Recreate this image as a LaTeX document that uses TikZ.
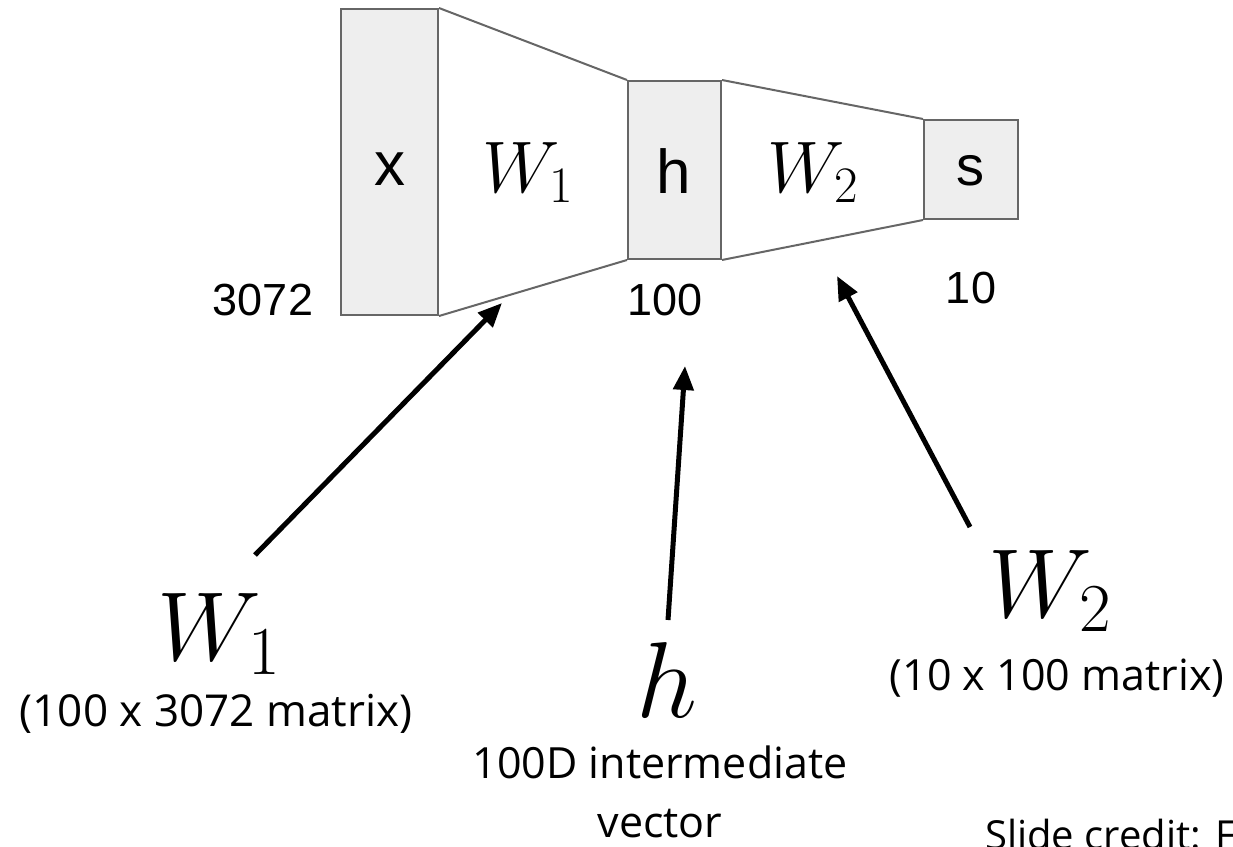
\RequirePackage{fix-cm}
\documentclass[tikz,border=0pt]{standalone}
\usepackage{fontspec}
\setmainfont{Latin Modern Roman}
\newfontfamily\arialf{Liberation Sans}
\newfontfamily\segoef{Open Sans}
\usetikzlibrary{arrows.meta}
\definecolor{boxfill}{HTML}{EEEEEE}
\definecolor{boxline}{HTML}{666666}
\tikzset{
  layer/.style={draw=boxline, fill=boxfill, line width=2pt, inner sep=0pt, anchor=north west},
  boxlbl/.style={font=\arialf\fontsize{62}{62}\selectfont, inner sep=0pt, anchor=base},
  dimlbl/.style={font=\arialf\fontsize{45}{45}\selectfont, inner sep=0pt},
  funnel/.style={draw=boxline, line width=2pt},
  bigarrow/.style={line width=5pt, -{Triangle[length=24pt,width=20pt]}},
  caption/.style={font=\segoef\fontsize{43}{59}\selectfont, inner sep=0pt, align=center},
  mathlbl/.style={inner sep=0pt, anchor=base},
}
\begin{document}
\begin{tikzpicture}[x=1pt,y=-1pt]
\useasboundingbox (0,0) rectangle (1233,846);
\clip (0,0) rectangle (1233,846);
% layers
\node[layer, minimum width=97pt, minimum height=306pt] (x) at (340,8) {};
\node[layer, minimum width=93pt, minimum height=178pt] (h) at (627,80) {};
\node[layer, minimum width=94pt, minimum height=99pt] (s) at (923,119) {};
% funnels
\draw[funnel] (x.north east) -- (h.north west);
\draw[funnel] (x.south east) -- (h.south west);
\draw[funnel] (h.north east) -- (s.north west);
\draw[funnel] (h.south east) -- (s.south west);
% labels in boxes
\node[boxlbl] (xl) at (390,185) {x};
\node[boxlbl] (hl) at (674,193) {h};
\node[boxlbl, font=\arialf\fontsize{56}{56}\selectfont] (sl) at (970,185) {s};
\node[mathlbl, font=\fontsize{73}{73}\selectfont] (w1) at (528,192) {$W_1$};
\node[mathlbl, font=\fontsize{73}{73}\selectfont] (w2) at (813,192) {$W_2$};
% dims
\node[dimlbl] (d1) at (263,300) {3072};
\node[dimlbl] (d2) at (665,300) {100};
\node[dimlbl] (d3) at (971,288) {10};
% bottom labels
\node[mathlbl, font=\fontsize{98}{98}\selectfont] (bw1) at (219,660) {$W_1$};
\node[caption, font=\segoef\fontsize{44}{59}\selectfont] (c1) at (216,714) {(100 x 3072 matrix)};
\node[mathlbl, font=\fontsize{108}{108}\selectfont] (bh) at (667,717) {$h$};
\node[caption, anchor=north] (c2) at (660,746) {100D intermediate\\vector};
\node[mathlbl, font=\fontsize{98}{98}\selectfont] (bw2) at (1050,617) {$W_2$};
\node[caption] (c3) at (1057,678) {(10 x 100 matrix)};
\node[caption, font=\segoef\fontsize{40}{50}\selectfont, anchor=base west] (credit) at (985,849) {Slide credit: F};
% arrows
\coordinate (a1s) at (255,555);
\coordinate (a1e) at (502,303);
\coordinate (a2s) at (668,620);
\coordinate (a2e) at (685,366);
\coordinate (a3s) at (970,527);
\coordinate (a3e) at (837,276);
\draw[bigarrow] (a1s) -- (a1e);
\draw[bigarrow] (a2s) -- (a2e);
\draw[bigarrow] (a3s) -- (a3e);
\end{tikzpicture}
\end{document}
